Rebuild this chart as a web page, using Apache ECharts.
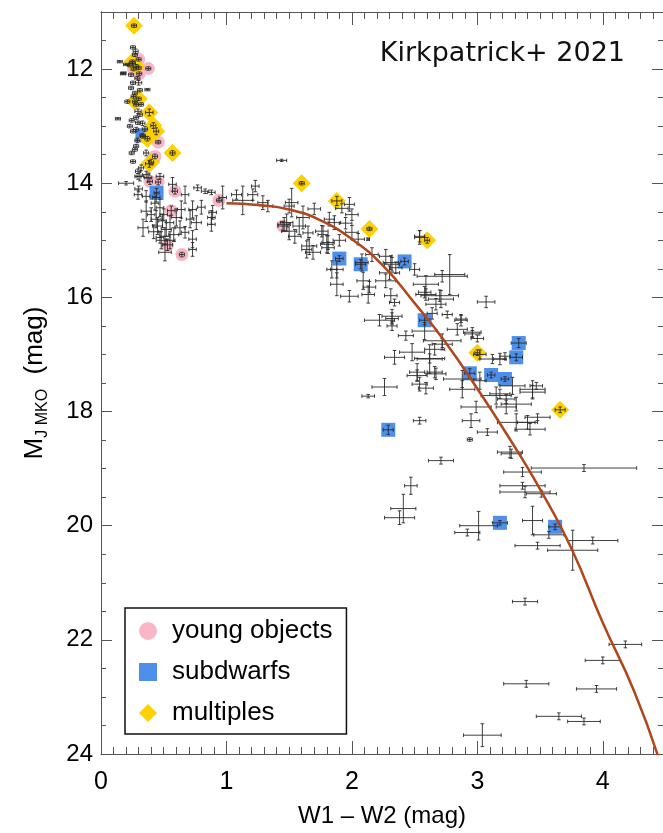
<!DOCTYPE html>
<html>
<head>
<meta charset="utf-8">
<script src="https://cdn.jsdelivr.net/npm/echarts@6/dist/echarts.min.js"></script>
<style>
html,body{margin:0;padding:0;background:#fff;}
#chart{width:663px;height:833px;}
</style>
</head>
<body>
<div id="chart"></div>
<script>
// ---- data: [W1-W2, M_J, xerr, yerr] ----
const fieldObjects = [
[0.276,11.69,0.02,0.04],[0.27,11.75,0.02,0.03],[0.15,11.87,0.02,0.02],[0.25,11.9,0.025,0.03],[0.23,11.93,0.02,0.03],
[0.20,11.92,0.02,0.02],[0.30,11.98,0.02,0.03],[0.18,12.07,0.02,0.02],[0.24,12.1,0.02,0.03],[0.255,12.24,0.02,0.03],
[0.30,12.24,0.025,0.04],[0.24,12.33,0.02,0.03],[0.31,12.37,0.02,0.03],[0.27,12.42,0.02,0.03],[0.37,12.36,0.02,0.02],
[0.26,12.48,0.02,0.03],[0.21,12.57,0.02,0.03],[0.28,12.62,0.02,0.03],[0.32,12.62,0.02,0.03],[0.295,12.74,0.025,0.04],
[0.31,12.8,0.02,0.03],[0.28,12.85,0.02,0.03],[0.135,12.87,0.02,0.02],[0.245,12.9,0.02,0.03],[0.295,12.94,0.02,0.03],
[0.23,13.0,0.02,0.03],[0.28,13.06,0.02,0.04],[0.255,13.09,0.02,0.03],[0.335,13.18,0.02,0.03],[0.28,13.35,0.02,0.03],
[0.27,13.41,0.02,0.03],[0.245,13.47,0.02,0.03],[0.255,13.62,0.02,0.03],[0.36,13.47,0.02,0.05],[0.32,13.73,0.02,0.05],
[0.295,13.79,0.02,0.04],[0.295,13.88,0.025,0.05],[0.36,13.85,0.03,0.06],[0.47,13.88,0.03,0.05],[0.255,11.62,0.02,0.03],
[0.175,12.08,0.02,0.02],[0.29,12.16,0.02,0.03],[0.33,12.95,0.02,0.04],[0.35,13.05,0.02,0.04],[0.29,13.25,0.02,0.04],
[0.20,14.0,0.06,0.03],[0.31,13.88,0.03,0.08],[0.375,13.9,0.03,0.08],[0.295,14.2,0.03,0.08],[0.36,14.23,0.03,0.1],
[0.57,14.02,0.03,0.12],[0.67,14.2,0.03,0.15],[0.36,14.49,0.04,0.18],[0.47,14.43,0.03,0.15],[0.44,14.63,0.04,0.15],
[0.49,14.66,0.03,0.12],[0.45,14.75,0.04,0.15],[0.52,14.81,0.04,0.12],[0.55,14.69,0.03,0.12],[0.335,14.78,0.04,0.15],
[0.51,14.93,0.04,0.15],[0.64,14.46,0.03,0.15],[0.63,14.78,0.04,0.12],[0.67,14.86,0.03,0.1],[0.71,14.63,0.03,0.15],
[0.73,14.46,0.03,0.15],[0.80,14.42,0.03,0.12],[0.76,14.69,0.04,0.12],[0.73,14.98,0.03,0.15],[0.73,15.16,0.03,0.12],
[0.88,14.6,0.03,0.12],[0.88,14.72,0.03,0.12],[0.89,14.51,0.03,0.12],[0.77,14.08,0.03,0.05],[0.83,14.14,0.03,0.04],
[0.88,14.16,0.03,0.04],[0.97,14.25,0.03,0.2],[1.08,14.2,0.04,0.08],[1.13,14.3,0.08,0.25],[0.51,15.21,0.05,0.15],
[0.40,14.55,0.03,0.12],[0.42,14.85,0.04,0.12],[0.48,15.0,0.04,0.15],[0.58,14.9,0.04,0.12],[0.43,14.35,0.03,0.12],
[0.50,14.55,0.03,0.1],[0.60,14.6,0.04,0.15],[0.55,15.0,0.04,0.15],[0.47,14.95,0.03,0.1],[0.44,14.25,0.03,0.08],
[0.30,14.1,0.03,0.05],
[1.23,14.05,0.03,0.1],[1.21,14.2,0.04,0.1],[1.29,14.34,0.04,0.12],[1.33,14.4,0.04,0.1],[1.44,13.6,0.04,0.02],
[1.50,14.4,0.04,0.12],[1.52,14.34,0.05,0.25],[1.48,14.69,0.05,0.15],[1.50,14.84,0.06,0.15],[1.545,14.93,0.05,0.12],
[1.58,14.75,0.05,0.15],[1.61,14.6,0.05,0.2],[1.66,15.1,0.06,0.15],[1.69,15.21,0.06,0.12],[1.77,14.9,0.04,0.15],
[1.80,15.07,0.05,0.15],[1.82,14.63,0.04,0.12],[1.86,14.69,0.05,0.12],[1.88,15.51,0.05,0.15],[1.88,15.77,0.05,0.2],
[1.98,14.37,0.04,0.12],[1.92,14.44,0.05,0.08],[1.98,15.98,0.07,0.1],[2.0,14.86,0.05,0.12],[2.05,14.98,0.05,0.1],
[2.13,14.98,0.01,0.02],[2.09,15.71,0.05,0.15],[2.13,15.95,0.05,0.15],[2.14,15.82,0.05,0.1],[2.16,15.25,0.05,0.12],
[2.27,15.28,0.05,0.12],[2.31,15.39,0.06,0.12],[2.35,15.48,0.05,0.1],[2.27,15.71,0.08,0.12],[2.31,15.97,0.05,0.12],
[2.34,16.09,0.04,0.06],[2.50,15.51,0.04,0.1],[2.54,14.93,0.04,0.1],[2.78,15.6,0.12,0.35],[2.59,15.77,0.1,0.15],
[2.58,15.91,0.05,0.1],[2.70,15.97,0.15,0.1],[2.67,16.12,0.08,0.1],[3.07,16.08,0.07,0.1],[2.76,16.3,0.04,0.06],
[2.64,16.28,0.04,0.1],[2.87,16.38,0.04,0.06],[2.22,16.4,0.12,0.1],[2.32,16.37,0.05,0.1],[2.32,16.5,0.04,0.08],
[2.43,16.67,0.06,0.08],[2.58,16.59,0.1,0.15],[2.72,16.76,0.15,0.12],[2.84,16.56,0.08,0.1],[2.96,16.61,0.07,0.08],
[3.0,16.72,0.05,0.06],[2.48,16.96,0.1,0.15],[2.34,17.05,0.08,0.12],[2.62,17.08,0.1,0.25],[2.66,16.91,0.08,0.1],
[3.02,17.0,0.05,0.08],[3.12,17.08,0.1,0.08],[3.18,17.08,0.05,0.1],[3.22,17.03,0.04,0.06],[2.52,17.31,0.06,0.15],
[2.66,17.31,0.06,0.1],[2.54,17.52,0.06,0.12],[2.26,17.57,0.1,0.15],[2.59,17.59,0.06,0.1],[2.88,17.43,0.15,0.15],
[2.88,17.61,0.1,0.15],[3.02,17.46,0.05,0.15],[3.28,17.55,0.1,0.15],[3.44,17.61,0.1,0.15],[3.47,17.55,0.05,0.06],
[3.15,17.72,0.12,0.15],[3.23,17.78,0.07,0.08],[2.99,17.92,0.12,0.1],[3.23,17.92,0.08,0.12],[3.31,18.19,0.15,0.15],
[3.40,18.19,0.08,0.12],[3.42,18.31,0.12,0.1],[3.48,18.1,0.1,0.06],[3.08,18.36,0.08,0.06],[2.95,18.16,0.07,0.12],
[2.13,17.73,0.05,0.03],[2.54,18.16,0.05,0.06],[2.94,18.49,0.02,0.03],[3.26,18.71,0.1,0.1],[2.71,18.86,0.1,0.06],
[3.27,18.74,0.08,0.08],[3.36,19.06,0.15,0.08],[3.85,18.99,0.42,0.06],[3.36,19.3,0.18,0.06],[3.51,19.44,0.12,0.06],
[3.38,19.41,0.2,0.1],[2.47,19.3,0.05,0.15],[2.41,19.7,0.1,0.25],[2.38,19.86,0.12,0.12],[3.01,20.0,0.15,0.25],
[2.92,20.12,0.1,0.06],[3.44,19.91,0.08,0.25],[3.57,20.16,0.12,0.06],[3.48,20.35,0.18,0.06],[3.92,20.26,0.2,0.06],
[3.76,20.43,0.2,0.35],[3.38,21.33,0.1,0.06],[4.18,22.08,0.13,0.06],[4.0,22.36,0.14,0.06],[3.39,22.77,0.18,0.06],
[3.95,22.86,0.16,0.06],[3.65,23.34,0.18,0.06],[3.85,23.43,0.13,0.06],[3.04,23.67,0.15,0.2],
[1.46,14.72,0.05,0.12],[1.65,14.87,0.04,0.12],[1.76,14.84,0.05,0.1],[1.64,15.16,0.04,0.15],[1.81,15.04,0.05,0.12],
[1.81,15.13,0.05,0.1],[1.84,15.51,0.04,0.15],[2.08,15.39,0.05,0.15],[2.30,15.57,0.08,0.12],[2.32,15.42,0.06,0.12],
[2.54,14.95,0.04,0.12],[2.59,15.95,0.08,0.1],[2.72,15.63,0.2,0.1],[2.71,16.03,0.1,0.15],[2.32,16.33,0.08,0.12],
[2.87,16.4,0.05,0.1],[2.96,16.64,0.06,0.06],[2.72,16.82,0.08,0.1],[2.62,17.07,0.12,0.08],[2.52,17.37,0.08,0.1],
[2.67,17.34,0.08,0.1],[3.18,17.69,0.08,0.08],[3.44,17.66,0.1,0.12],[3.31,17.87,0.12,0.12],[2.0,14.55,0.05,0.1],
[1.95,14.7,0.05,0.1],[1.70,14.45,0.05,0.1],[1.90,15.0,0.05,0.1]
];
const youngObjects = [
[0.30,11.83,0.02,0.03],[0.377,11.99,0.02,0.03],[0.26,12.0,0.02,0.03],[0.305,12.08,0.02,0.03],[0.456,13.28,0.02,0.03],
[0.43,13.53,0.02,0.04],[0.39,13.97,0.02,0.05],[0.456,13.98,0.02,0.05],[0.59,14.14,0.02,0.05],[0.94,14.3,0.02,0.03],
[0.56,14.48,0.03,0.08],[0.53,15.08,0.04,0.1],[0.645,15.25,0.02,0.04],[1.45,14.75,0.04,0.08]
];
const subdwarfs = [
[0.33,13.16,0.02,0.03],[0.443,14.17,0.02,0.08],[1.90,15.32,0.03,0.05],[2.07,15.42,0.04,0.08],[2.42,15.37,0.03,0.06],
[2.58,16.4,0.04,0.08],[3.33,16.8,0.06,0.08],[3.31,17.05,0.05,0.06],[2.94,17.33,0.04,0.08],[3.11,17.36,0.03,0.05],
[3.22,17.43,0.03,0.04],[2.29,18.32,0.04,0.08],[3.18,19.95,0.06,0.04],[3.62,20.02,0.05,0.05]
];
const multiples = [
[0.263,11.24,0.02,0.03],[0.25,11.87,0.02,0.03],[0.28,11.95,0.02,0.03],[0.30,12.52,0.02,0.03],[0.27,12.57,0.02,0.03],
[0.385,12.76,0.03,0.06],[0.417,12.99,0.02,0.05],[0.44,13.09,0.02,0.06],[0.37,13.22,0.02,0.04],[0.57,13.47,0.02,0.04],
[0.40,13.63,0.02,0.05],[0.385,13.66,0.03,0.06],[1.60,14.0,0.02,0.03],[1.88,14.31,0.04,0.08],[2.14,14.8,0.02,0.03],
[2.60,15.0,0.02,0.05],[3.0,16.97,0.02,0.05],[3.66,17.97,0.04,0.05]
];
const relationCurve = [
[1.0,14.35],[1.25,14.38],[1.5,14.46],[1.75,14.65],[2.0,14.98],[2.25,15.45],[2.5,16.1],[2.75,16.8],
[3.0,17.6],[3.25,18.45],[3.5,19.36],[3.75,20.4],[4.0,21.7],[4.25,22.9],[4.45,24.1]
];
const xTickLabels = [0,1,2,3,4];
const yTickLabels = [12,14,16,18,20,22,24];
const yMinorTicks = [11,11.5,12,12.5,13,13.5,14,14.5,15,15.5,16,16.5,17,17.5,18,18.5,19,19.5,20,20.5,21,21.5,22,22.5,23,23.5,24];

const FONT = 'Liberation Sans, Arial, sans-serif';
const AXC = '#555';

const chart = echarts.init(document.getElementById('chart'), null, {renderer:'canvas'});

function errRender(params, api){
  const x = api.value(0), y = api.value(1), xe = api.value(2), ye = api.value(3);
  const l = api.coord([x - xe, y]), r = api.coord([x + xe, y]);
  const t = api.coord([x, y - ye]), b = api.coord([x, y + ye]);
  const cap = 1.8;
  const st = {stroke:'#2a2a2a', lineWidth:0.9};
  const mk = (x1,y1,x2,y2)=>({type:'line', shape:{x1,y1,x2,y2}, style:st});
  return {type:'group', children:[
    mk(l[0],l[1],r[0],r[1]),
    mk(t[0],t[1],b[0],b[1]),
    mk(l[0],l[1]-cap,l[0],l[1]+cap),
    mk(r[0],r[1]-cap,r[0],r[1]+cap),
    mk(t[0]-cap,t[1],t[0]+cap,t[1]),
    mk(b[0]-cap,b[1],b[0]+cap,b[1])
  ]};
}

const xBase = {type:'value', min:0, max:4.48, interval:1, splitLine:{show:false},
  axisLine:{show:true, onZero:false, lineStyle:{color:AXC, width:1}}};
const yBase = {type:'value', inverse:true, min:11, max:24, splitLine:{show:false},
  axisLine:{show:true, onZero:false, lineStyle:{color:AXC, width:1}}};

const option = {
  animation:false,
  backgroundColor:'#fff',
  title:{text:'Kirkpatrick+ 2021', right:33, top:35,
    textStyle:{fontFamily:'DejaVu Sans', fontSize:27, fontWeight:'normal', color:'#111'}},
  grid:{left:101, top:12, width:563, height:745, containLabel:false},
  legend:{orient:'vertical', left:125, top:608, padding:[10,14,8,14], itemGap:15,
    itemWidth:18, itemHeight:18, borderColor:'#111', borderWidth:1.5, backgroundColor:'#fff',
    textStyle:{fontFamily:FONT, fontSize:26, color:'#000', padding:[0,0,0,10]},
    data:[{name:'young objects', icon:'circle'},{name:'subdwarfs', icon:'rect'},{name:'multiples', icon:'diamond'}]},
  xAxis:[
    Object.assign({}, xBase, {position:'bottom',
      axisTick:{show:true, inside:true, length:13, lineStyle:{color:AXC}},
      minorTick:{show:true, splitNumber:10, length:7, lineStyle:{color:AXC}},
      axisLabel:{fontFamily:FONT, fontSize:25, color:'#000', margin:16, customValues:xTickLabels},
      name:'W1 – W2 (mag)', nameLocation:'middle', nameGap:50,
      nameTextStyle:{fontFamily:FONT, fontSize:24, color:'#000'}}),
    Object.assign({}, xBase, {position:'top',
      axisTick:{show:true, inside:true, length:13, lineStyle:{color:AXC}},
      minorTick:{show:true, splitNumber:10, length:7, lineStyle:{color:AXC}},
      axisLabel:{show:false}})
  ],
  yAxis:[
    Object.assign({}, yBase, {position:'left',
      axisTick:{show:true, inside:true, length:11, customValues:yTickLabels, lineStyle:{color:AXC}},
      axisLabel:{fontFamily:FONT, fontSize:24, color:'#000', margin:8, customValues:yTickLabels},
      name:'{m|M}{s|J MKO}{m|  (mag)}', nameLocation:'middle', nameGap:50,
      nameTextStyle:{fontFamily:FONT, color:'#000', rich:{
        m:{fontFamily:FONT, fontSize:26, color:'#000', lineHeight:32},
        s:{fontFamily:FONT, fontSize:16, color:'#000', lineHeight:32, verticalAlign:'bottom', padding:[13,0,0,0]}}}}),
    Object.assign({}, yBase, {position:'left',
      axisTick:{show:true, inside:true, length:5, customValues:yMinorTicks, lineStyle:{color:AXC}},
      axisLabel:{show:false}}),
    Object.assign({}, yBase, {position:'right',
      axisTick:{show:true, inside:true, length:11, customValues:yTickLabels, lineStyle:{color:AXC}},
      axisLabel:{show:false}}),
    Object.assign({}, yBase, {position:'right',
      axisTick:{show:true, inside:true, length:5, customValues:yMinorTicks, lineStyle:{color:AXC}},
      axisLabel:{show:false}})
  ],
  series:[
    {name:'young objects', type:'scatter', data:youngObjects, encode:{x:0,y:1}, symbol:'circle', symbolSize:13,
      itemStyle:{color:'#f8b6c6', opacity:1}, z:2},
    {name:'subdwarfs', type:'scatter', data:subdwarfs, encode:{x:0,y:1}, symbol:'rect', symbolSize:14,
      itemStyle:{color:'#4d8fea', opacity:1}, z:2},
    {name:'multiples', type:'scatter', data:multiples, encode:{x:0,y:1}, symbol:'diamond', symbolSize:18,
      itemStyle:{color:'#fdd000', opacity:1}, z:2},
    {name:'fieldErr', type:'custom', renderItem:errRender, clip:true, encode:{x:0,y:1},
      data:fieldObjects.concat(youngObjects, subdwarfs, multiples), z:4, silent:true},
    {name:'relation', type:'line', data:relationCurve, smooth:true, showSymbol:false, clip:true,
      lineStyle:{color:'#b0461c', width:2.5}, z:5, silent:true}
  ]
};
chart.setOption(option);
</script>
</body>
</html>
